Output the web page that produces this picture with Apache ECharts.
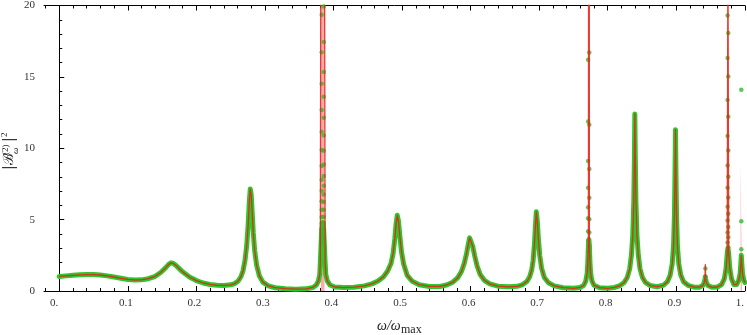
<!DOCTYPE html>
<html><head><meta charset="utf-8">
<script src="https://cdn.jsdelivr.net/npm/echarts@6/dist/echarts.min.js"></script>
<style>html,body{margin:0;padding:0;background:#fff}#c{width:747px;height:335px}</style>
</head><body><div id="c"></div>
<script>
// ---- tick values / labels ----
const xTickValues = [0,0.1,0.2,0.3,0.4,0.5,0.6,0.7,0.8,0.9,1.0];
const xTickLabels = ['0.','0.1','0.2','0.3','0.4','0.5','0.6','0.7','0.8','0.9','1.'];
const xMinorTicks = [-0.02,0.02,0.04,0.06,0.08,0.12,0.14,0.16,0.18,0.22,0.24,0.26,0.28,0.32,0.34,0.36,0.38,
  0.42,0.44,0.46,0.48,0.52,0.54,0.56,0.58,0.62,0.64,0.66,0.68,0.72,0.74,0.76,0.78,0.82,0.84,0.86,0.88,0.92,0.94,0.96,0.98];
const yTicks = [0,5,10,15,20];

// ---- spectrum |B|^2 vs omega/omega_max ----
const spectrum = [
[0.000,1.02],[0.010,1.06],[0.020,1.10],[0.030,1.13],[0.040,1.15],[0.050,1.15],[0.060,1.12],[0.070,1.06],
[0.080,0.98],[0.090,0.89],[0.100,0.81],[0.110,0.77],[0.120,0.78],[0.130,0.86],[0.140,1.03],[0.148,1.30],
[0.155,1.62],[0.160,1.88],[0.163,1.97],[0.166,1.94],[0.170,1.80],[0.175,1.57],[0.180,1.34],[0.190,0.98],
[0.200,0.73],[0.210,0.56],[0.220,0.46],[0.230,0.40],[0.240,0.39],[0.250,0.43],[0.256,0.52],[0.261,0.70],
[0.265,1.00],[0.268,1.40],[0.271,2.15],[0.2735,3.20],[0.2755,4.60],[0.2772,6.20],[0.2786,7.15],[0.2800,6.75],
[0.2815,5.45],[0.2830,4.10],[0.2850,2.85],[0.2880,1.80],[0.2920,1.05],[0.2970,0.62],[0.3050,0.36],[0.3150,0.23],
[0.3300,0.16],[0.3450,0.13],[0.3600,0.15],[0.3700,0.25],[0.3750,0.42],[0.3780,0.70],[0.3800,1.15],[0.3808,2.00],
[0.3828,4.30],[0.3843,4.80],[0.3857,4.30],[0.3878,2.00],[0.3888,1.15],[0.3910,0.70],[0.3950,0.42],[0.4020,0.28],
[0.4150,0.24],[0.4300,0.27],[0.4450,0.36],[0.4560,0.50],[0.4650,0.70],[0.4730,1.00],[0.4790,1.40],[0.4840,1.95],
[0.4870,2.65],[0.4895,3.70],[0.4913,4.70],[0.4930,5.30],[0.4948,4.90],[0.4967,3.90],[0.4992,2.75],[0.5025,1.85],
[0.5075,1.10],[0.5150,0.68],[0.5250,0.44],[0.5400,0.32],[0.5550,0.32],[0.5650,0.42],[0.5740,0.62],[0.5810,0.92],
[0.5865,1.35],[0.5905,1.90],[0.5940,2.60],[0.5965,3.25],[0.5985,3.72],[0.6005,3.60],[0.6030,3.15],[0.6060,2.45],
[0.6095,1.75],[0.6140,1.15],[0.6200,0.75],[0.6280,0.50],[0.6400,0.34],[0.6550,0.29],[0.6680,0.33],[0.6760,0.45],
[0.6820,0.66],[0.6860,0.98],[0.6890,1.45],[0.6912,2.15],[0.6930,3.20],[0.6945,4.50],[0.6958,5.55],[0.6972,4.95],
[0.6988,3.70],[0.7008,2.50],[0.7035,1.60],[0.7075,0.95],[0.7135,0.58],[0.7220,0.36],[0.7350,0.23],[0.7500,0.19],
[0.7600,0.25],[0.7650,0.40],[0.7680,0.70],[0.7700,1.25],[0.7710,2.10],[0.7718,3.20],[0.7725,3.60],[0.7732,3.20],
[0.7740,2.10],[0.7750,1.25],[0.7770,0.70],[0.7800,0.40],[0.7880,0.23],[0.8000,0.19],[0.8100,0.25],[0.8180,0.38],
[0.8240,0.60],[0.8285,0.95],[0.8320,1.55],[0.8345,2.50],[0.8365,3.90],[0.8380,6.30],[0.8389,9.40],[0.8395,12.40],
[0.8402,9.40],[0.8411,6.30],[0.8426,3.90],[0.8446,2.50],[0.8471,1.55],[0.8506,0.95],[0.8550,0.60],[0.8620,0.38],
[0.8720,0.30],[0.8810,0.40],[0.8870,0.65],[0.8910,1.10],[0.8940,1.90],[0.8960,3.20],[0.8973,5.40],[0.8981,8.30],
[0.8988,11.30],[0.8995,8.30],[0.9003,5.40],[0.9016,3.20],[0.9036,1.90],[0.9066,1.10],[0.9106,0.65],[0.9170,0.40],
[0.9260,0.27],[0.9340,0.27],[0.9385,0.38],[0.9408,0.60],[0.9418,0.85],[0.9423,1.00],[0.9428,0.85],[0.9438,0.60],
[0.9462,0.38],[0.9520,0.26],[0.9600,0.28],[0.9660,0.45],[0.9700,0.85],[0.9725,1.55],[0.9742,2.60],[0.9753,3.00],
[0.9764,2.60],[0.9781,1.55],[0.9806,0.85],[0.9840,0.45],[0.9880,0.45],[0.9910,0.75],[0.9930,1.20],[0.9942,2.00],
[0.9948,2.50],[0.9954,2.00],[0.9966,1.20],[0.9985,0.75],[1.0000,0.60]
];

// off-scale resonances of the red curve
const redSpikes = [
  [[0.3814,20.5],[0.3843,400],[0.3871,20.5]],
  [[0.7720,20.5],[0.7725,400],[0.7731,20.5]],
  [[0.9423,1.85]],
  [[0.9751,20.5],[0.9753,400],[0.9755,20.5]]
];
// light (pink) parts of the red curve: [xStart, xEnd, top]
const pinkBands = [[0.3816,0.3869,20.5],[0.9938,0.9957,9.0]];

// sparse green samples on the sharp resonances
const dotsA_x = 0.3828, dotsA = [19.35,16.72,14.51,12.68,11.15,9.87,8.76,7.80,7.02,6.29,5.69,5.18,4.72,4.31,3.95,3.62,3.33];
const dotsB_x = 0.3857, dotsB = [19.93,17.44,15.35,13.60,12.13,10.90,9.83,8.87,8.06,7.37,6.76,6.24,5.69,5.20,4.77,4.39,4.04,3.72];
const dotsC_x = 0.7714, dotsC = [16.20,11.87,9.10,7.23,5.87,5.09,4.18,3.50,2.78,2.13,1.70,1.40];
const dotsD_x = 0.7731, dotsD = [16.70,11.64,8.55,6.53,5.02,4.10,3.17,2.40,1.90,1.55];
const dotsE_x = 0.9424, dotsE = [1.58,1.00];
const dotsF_x = 0.9748, dotsF = [19.30,16.33,13.38,10.85,8.80,7.23,5.90,4.93,4.09,3.39,2.79];
const dotsG_x = 0.9758, dotsG = [18.07,15.03,12.20,9.85,8.00,6.55,5.41,4.48,3.76,3.07,2.50];
const dotsH_x = 0.9948, dotsH = [14.10,4.88,2.93,1.46,1.00];

// ---- build ----
function redData(){
  let pts = spectrum.filter(p => !redSpikes.some(s => p[0] >= s[0][0] && p[0] <= s[s.length-1][0]));
  redSpikes.forEach(s => { pts = pts.concat(s); });
  pts.sort((a,b) => a[0]-b[0]);
  return pts;
}
const dotData = [];
[[dotsA_x,dotsA],[dotsB_x,dotsB],[dotsC_x,dotsC],[dotsD_x,dotsD],[dotsE_x,dotsE],[dotsF_x,dotsF],[dotsG_x,dotsG],[dotsH_x,dotsH]]
  .forEach(([x,arr]) => arr.forEach(v => dotData.push([x,v])));
const bandData = [];
pinkBands.forEach(b => { bandData.push([b[0],0],[b[0],b[2]],[b[1],b[2]],[b[1],0]); });

const FONT = 'Liberation Serif';
const XMIN = -0.0222, XMAX = 1.0;
function xAx(pos, major, withLabel, withLine){
  return {
    type:'value', position:pos, min:XMIN, max:XMAX, gridIndex:0,
    axisLine:{show:withLine, onZero:false, lineStyle:{color:'#000', width:1}},
    axisTick:{show:true, inside:true, length: major?5:3, customValues: major?xTickValues:xMinorTicks,
      lineStyle:{color:'#000', width:1}},
    axisLabel:{show:withLabel, customValues:xTickValues, margin:7, fontFamily:FONT, fontSize:11, color:'#333',
      formatter:(v)=>{ let i = xTickValues.findIndex(t=>Math.abs(t-v)<1e-6);
        if (i<0) return ''; const s = xTickLabels[i]; return s.length<3 ? '{p|'+s+'}' : '{n|'+s+'}'; },
      rich:{ p:{fontFamily:FONT, fontSize:11, color:'#333', padding:[0,10,0,0]},
             n:{fontFamily:FONT, fontSize:11, color:'#333', padding:[0,4,0,0]} }},
    splitLine:{show:false}
  };
}

const chart = echarts.init(document.getElementById('c'), null, {renderer:'canvas'});
chart.setOption({
  animation:false,
  backgroundColor:'#fff',
  grid:{left:44, right:1, top:4, bottom:44, containLabel:false},
  xAxis:[ xAx('bottom',true,true,true), xAx('bottom',false,false,false), xAx('top',true,false,true), xAx('top',false,false,false) ],
  yAxis:{
    type:'value', min:0, max:20, interval:5,
    axisLine:{show:true, lineStyle:{color:'#000', width:1}},
    axisTick:{show:true, inside:true, length:5, lineStyle:{color:'#000'}},
    minorTick:{show:true, splitNumber:5, length:3, lineStyle:{color:'#000'}},
    axisLabel:{margin:9, fontFamily:FONT, fontSize:11, color:'#333',
      formatter:(v)=> yTicks.indexOf(v)>=0 ? String(v) : ''},
    splitLine:{show:false}, minorSplitLine:{show:false}
  },
  series:[
    {type:'line', data:bandData, symbol:'none', z:1, silent:true, clip:true,
      lineStyle:{width:0}, areaStyle:{color:'rgba(255,150,150,0.8)', opacity:1}},
    {type:'line', data:spectrum, symbol:'none', z:2, clip:false, silent:true,
      lineStyle:{color:'#2cc72c', width:5, cap:'round', join:'round'}},
    {type:'scatter', data:dotData, symbol:'circle', symbolSize:4.5, z:3, silent:true,
      itemStyle:{color:'#34b82a'}},
    {type:'line', data:redData(), symbol:'none', z:4, clip:true, silent:true,
      lineStyle:{color:'rgba(232,35,25,0.9)', width:1.3, join:'round'}}
  ],
  graphic:[
    {type:'group', x:16, y:170, rotation:Math.PI/2, silent:true, children:[
      {type:'text', x:0, y:0, style:{text:'|ℬ', font:'14px "DejaVu Serif"', fill:'#222', verticalAlign:'bottom'}},
      {type:'text', x:15, y:-6, style:{text:'(2)', font:'9px "Liberation Serif"', fill:'#222', verticalAlign:'bottom'}},
      {type:'text', x:16, y:4, style:{text:'ω', font:'italic 9px "Liberation Serif"', fill:'#222', verticalAlign:'bottom'}},
      {type:'text', x:28, y:0, style:{text:'|', font:'14px "DejaVu Serif"', fill:'#222', verticalAlign:'bottom'}},
      {type:'text', x:33, y:-7, style:{text:'2', font:'9px "Liberation Serif"', fill:'#222', verticalAlign:'bottom'}}
    ]},
    {type:'text', left:377, top:319, silent:true, style:{text:'ω/ω', font:'italic 14px "Liberation Serif"', fill:'#222'}},
    {type:'text', left:401, top:324, silent:true, style:{text:'max', font:'12px "Liberation Serif"', fill:'#222'}}
  ]
});
</script></body></html>
